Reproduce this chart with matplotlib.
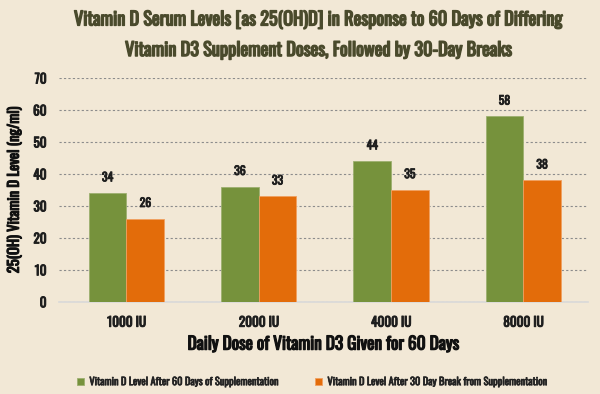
import matplotlib
matplotlib.use("Agg")
import matplotlib.pyplot as plt
import matplotlib.patheffects as pe
import numpy as np

categories = ["1000 IU", "2000 IU", "4000 IU", "8000 IU"]
after_60 = [34, 36, 44, 58]
after_break = [26, 33, 35, 38]
series_names = ["Vitamin D Level After 60 Days of Supplementation",
                "Vitamin D Level After 30 Day Break from Supplementation"]
yticks = [0, 10, 20, 30, 40, 50, 60, 70]

plt.rcParams['font.family'] = ['Oswald', 'DejaVu Sans']

bg = "#F2E8D6"
green = "#76923C"
orange = "#E36C0A"
dark = "#1E1E1E"


def bold(t, lw=0.7):
    t.set_path_effects([pe.withStroke(linewidth=lw, foreground=t.get_color())])
    return t


fig = plt.figure(figsize=(6, 3.94), dpi=100, facecolor=bg)
ax = fig.add_axes([0.0983, 0.234, 0.882, 0.568], facecolor=bg)

x = np.arange(len(categories))
w = 0.285
b1 = ax.bar(x - w/2, after_60, w, color=green, edgecolor="#9DB070", linewidth=0.6,
            label=series_names[0], zorder=3)
b2 = ax.bar(x + w/2, after_break, w, color=orange, edgecolor="#F0A060", linewidth=0.6,
            label=series_names[1], zorder=3)
for bars in (b1, b2):
    for r in bars:
        t = ax.annotate(f"{int(r.get_height())}", (r.get_x() + r.get_width()/2, r.get_height()),
                        xytext=(0, 7), textcoords='offset points',
                        ha='center', va='bottom', fontsize=8.5, color=dark)
        bold(t, 0.6)

ax.set_ylim(0, 70)
ax.set_xlim(-0.51, 3.49)
ax.set_yticks(yticks)
ax.set_xticks(x)
ax.set_xticklabels(categories, fontsize=9.5, color=dark)
ax.tick_params(axis='y', labelsize=9.5, colors=dark, length=0, pad=9)
ax.tick_params(axis='x', length=0, pad=10)
for t in ax.get_xticklabels() + ax.get_yticklabels():
    bold(t, 0.7)
ax.yaxis.grid(True, linestyle=(0, (2, 2)), color='#8C8C8C', linewidth=0.8, zorder=0)
for s in ['top', 'right', 'left']:
    ax.spines[s].set_visible(False)
ax.spines['bottom'].set_color('#D9D9D9')
ax.spines['bottom'].set_linewidth(1.2)

bold(ax.set_ylabel("25(OH) Vitamin D Level (ng/ml)", fontsize=10.5, color='#111111', labelpad=8), 0.8)
bold(ax.set_xlabel("Daily Dose of Vitamin D3 Given for 60 Days", fontsize=12.5, color='#111111', labelpad=5), 0.9)

title_color = "#4A4A2C"
bold(fig.text(0.53, 0.949, "Vitamin D Serum Levels [as 25(OH)D] in Response to 60 Days of Differing",
              ha='center', va='center', fontsize=13.2, color=title_color), 1.0)
bold(fig.text(0.53, 0.873, "Vitamin D3 Supplement Doses, Followed by 30-Day Breaks",
              ha='center', va='center', fontsize=13.2, color=title_color), 1.0)

leg = fig.legend(handles=[b1, b2], loc='center', bbox_to_anchor=(0.52, 0.03), ncol=2,
                 frameon=False, fontsize=7.5, handlelength=0.7, handleheight=0.7,
                 columnspacing=3.5, handletextpad=0.5)
for t in leg.get_texts():
    t.set_color('#222222')
    bold(t, 0.5)

fig.savefig("out.png", dpi=100, facecolor=bg)
